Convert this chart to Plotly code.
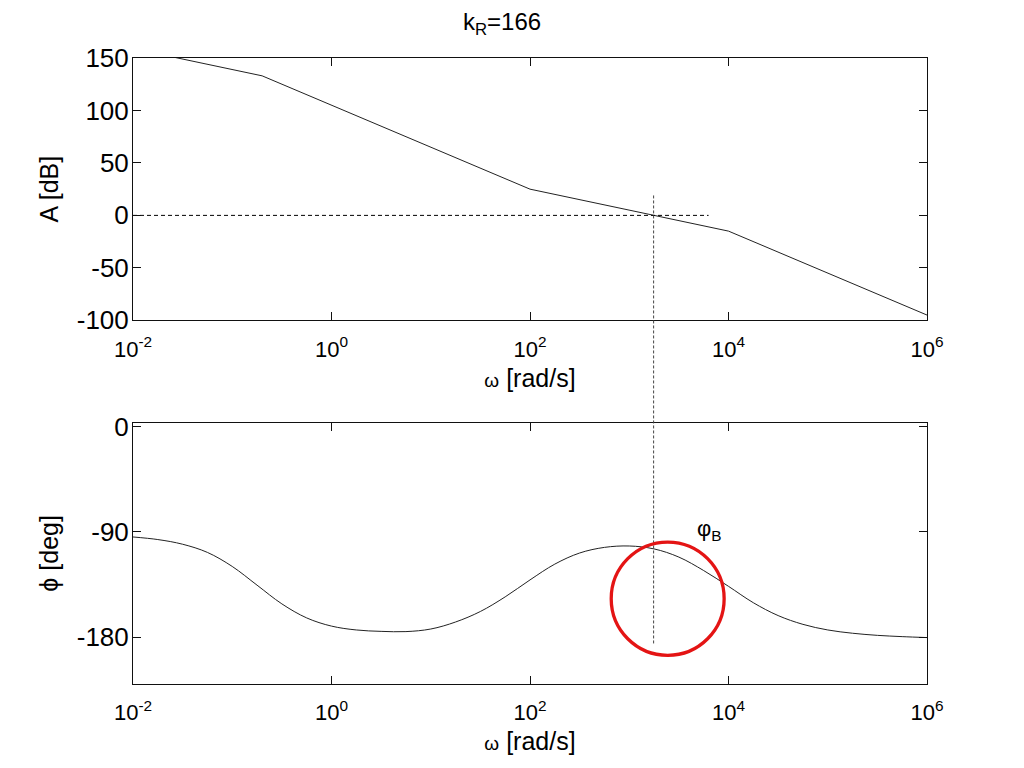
import plotly.graph_objects as go

# ---- data ----
w_mag = [0.01, 0.2, 100, 1e4, 1e6]
A_mag = [159, 133, 25, -15, -95]

w_phase = [0.01, 0.01778, 0.03162, 0.05623, 0.1, 0.1778, 0.3162, 0.5623, 1.0, 1.778,
           3.162, 5.623, 10, 17.78, 31.62, 56.23, 100, 177.8, 316.2, 562.3, 1000,
           1778, 3162, 5623, 10000, 17780, 31620, 56230, 100000, 177800, 316200,
           562300, 1000000]
phi = [-94.3, -96.5, -100.5, -107.5, -119.5, -135.5, -151.5, -163.5, -170.5, -173.8,
       -175, -175.2, -173, -167, -158, -145.5, -131, -117.5, -108, -103.2, -102,
       -104.5, -111.5, -123, -136.5, -150.5, -161.5, -169, -173.8, -176.6, -178.4,
       -179.5, -180.3]

w_cross = 1760          # gain crossover frequency
zero_line_w = [0.01, 6300]
zero_line_A = [0, 0]
vline_top_A = 19
vline_bottom_phi = -186.5

circle_w = [658, 9040]
circle_phi = [-195.5, -98.7]
label_logw = 3.81
label_phi = -88.5

xtick_vals = [1e-2, 1e0, 1e2, 1e4, 1e6]
xtick_text = ["10<sup>-2</sup>", "10<sup>0</sup>", "10<sup>2</sup>", "10<sup>4</sup>", "10<sup>6</sup>"]
ytick_mag = [-100, -50, 0, 50, 100, 150]
ytick_mag_text = ["-100", "-50", "0", "50", "100", "150"]
ytick_phase = [-180, -90, 0]
ytick_phase_text = ["-180", "-90", "0"]

mag_range = [-100, 150]
phase_range = [-220, 3.4]
dom_top = [0.581, 1.0]
dom_bot = [0.0, 0.4174]

FONT = "Liberation Sans, Arial, sans-serif"
W, H = 1008, 752   # page body adds 8px margin on each side
OFF = 8

fig = go.Figure()
fig.add_trace(go.Scatter(x=w_mag, y=A_mag, mode="lines", xaxis="x", yaxis="y",
                         line=dict(color="#222222", width=1), showlegend=False))
fig.add_trace(go.Scatter(x=zero_line_w, y=zero_line_A, mode="lines", xaxis="x", yaxis="y",
                         line=dict(color="#000000", width=1, dash="4px,3px"), showlegend=False))
fig.add_trace(go.Scatter(x=w_phase, y=phi, mode="lines", xaxis="x2", yaxis="y2",
                         line=dict(color="#222222", width=1, shape="spline", smoothing=1),
                         showlegend=False))


def to_paper(v, rng, dom):
    return dom[0] + (v - rng[0]) / (rng[1] - rng[0]) * (dom[1] - dom[0])


fig.add_shape(type="line", xref="x", yref="paper",
              x0=w_cross, x1=w_cross,
              y0=to_paper(vline_top_A, mag_range, dom_top),
              y1=to_paper(vline_bottom_phi, phase_range, dom_bot),
              line=dict(color="#444444", width=1, dash="3px,2px"))

fig.add_shape(type="circle", xref="x2", yref="y2",
              x0=circle_w[0], x1=circle_w[1], y0=circle_phi[0], y1=circle_phi[1],
              line=dict(color="rgb(228,20,20)", width=3.3))

fig.add_annotation(x=label_logw, y=label_phi, xref="x2", yref="y2", text="φ<sub>B</sub>",
                   showarrow=False, font=dict(family=FONT, size=22, color="black"))

axis_common = dict(showline=True, linecolor="#111111", linewidth=1, mirror="ticks",
                   ticks="inside", ticklen=8, tickcolor="#111111", showgrid=False,
                   zeroline=False, automargin=False)

xlabel = '<span style="font-size:19px">ω</span> [rad/s]'

fig.update_layout(
    width=W, height=H,
    margin=dict(l=133 - OFF, r=1024 - OFF - 927, t=58 - OFF, b=(768 - OFF) - 684, autoexpand=False),
    paper_bgcolor="white", plot_bgcolor="white",
    font=dict(family=FONT, color="black"),
    title=dict(text="k<sub>R</sub>=166", x=(502 - OFF) / W, y=1 - (22 - OFF) / H,
               xanchor="center", yanchor="middle", font=dict(size=24, family=FONT)),
    xaxis=dict(type="log", range=[-2, 6], domain=[0, 1], anchor="y",
               tickvals=xtick_vals, ticktext=xtick_text, tickfont=dict(size=22),
               ticklabelstandoff=9,
               title=dict(text=xlabel, font=dict(size=25), standoff=8),
               **axis_common),
    yaxis=dict(range=mag_range, domain=dom_top, anchor="x", tickvals=ytick_mag,
               ticktext=ytick_mag_text, tickfont=dict(size=26), ticklabelstandoff=-2,
               title=dict(text="A [dB]", font=dict(size=25), standoff=10),
               **axis_common),
    xaxis2=dict(type="log", range=[-2, 6], domain=[0, 1], anchor="y2",
                tickvals=xtick_vals, ticktext=xtick_text, tickfont=dict(size=22),
                ticklabelstandoff=9,
                title=dict(text=xlabel, font=dict(size=25), standoff=8),
                **axis_common),
    yaxis2=dict(range=phase_range, domain=dom_bot, anchor="x2", tickvals=ytick_phase,
                ticktext=ytick_phase_text, tickfont=dict(size=26), ticklabelstandoff=-2,
                title=dict(text="ϕ [deg]", font=dict(size=25), standoff=10),
                **axis_common),
)

fig.write_html("out.html")
